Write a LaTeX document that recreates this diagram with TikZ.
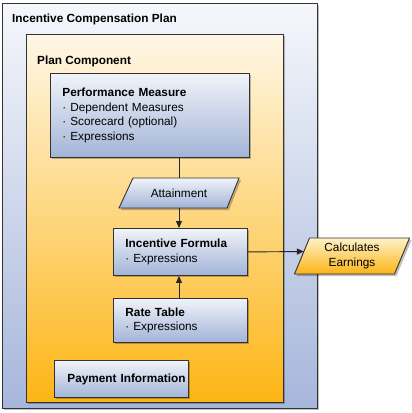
\documentclass[tikz,border=0pt]{standalone}
\usepackage{fontspec}
\setmainfont{Liberation Sans}
\usetikzlibrary{shadows}
\usetikzlibrary{positioning}
\usetikzlibrary{arrows.meta}
\definecolor{plantop}{HTML}{F5F7FB}
\definecolor{planbot}{HTML}{A6B6DB}
\definecolor{comptop}{HTML}{FEF7E6}
\definecolor{compbot}{HTML}{FDB515}
\definecolor{itemtop}{HTML}{F0F3F9}
\definecolor{itembot}{HTML}{A3B4D7}
\definecolor{outtop}{HTML}{FEF2C8}
\definecolor{outbot}{HTML}{FBB416}
\tikzset{
    boxshadow/.style = {drop shadow={shadow xshift=2pt,shadow yshift=-2pt,fill=black,opacity=0.25}},
    planbox/.style = {rectangle, draw=black!80, line width=0.9pt, anchor=north west, inner sep=0pt, top color=plantop, bottom color=planbot, boxshadow},
    compbox/.style = {rectangle, draw=black!80, line width=0.9pt, anchor=north west, inner sep=0pt, top color=comptop, bottom color=compbot, boxshadow},
    itembox/.style = {rectangle, draw=black!80, line width=0.9pt, anchor=north west, inner xsep=12pt, inner ysep=0pt, align=left, top color=itemtop, bottom color=itembot, boxshadow},
    dataframe/.style = {draw=black!80, line width=0.9pt, line join=miter, top color=itemtop, bottom color=itembot, boxshadow},
    outframe/.style = {draw=black!80, line width=0.9pt, line join=miter, top color=outtop, bottom color=outbot, boxshadow},
    datatext/.style = {inner sep=0pt, align=center},
    titletext/.style = {anchor=base west, inner sep=0pt, font=\bfseries},
    edgen/.style = {-, line width=0.9pt, black!85},
    edgea/.style = {-{Triangle[length=7pt,width=6pt]}, line width=0.9pt, black!85},
    every picture/.style={font issue=\fontsize{11.8}{14.6}\selectfont},
    font issue/.style={execute at begin picture={#1}}
}
\begin{document}
\begin{tikzpicture}[x=1pt,y=1pt]
  \useasboundingbox (0,0) rectangle (412,-413);

  % containers
  \node[planbox, minimum width=315pt, minimum height=405pt] (plan) at (2,-3) {};
  \node[titletext] (plantitle) at (12,-22) {Incentive Compensation Plan};
  \node[compbox, minimum width=257pt, minimum height=368pt] (comp) at (26,-34) {};
  \node[titletext] (comptitle) at (37,-64.5) {Plan Component};

  % boxes
  \node[itembox, text width=175pt, minimum height=84pt] (pm) at (50,-73)
    {\textbf{Performance Measure}\\· Dependent Measures\\· Scorecard (optional)\\· Expressions};
  \coordinate (attc) at (179,-193);
  \path[dataframe] ([shift={(-60,-15)}]attc) -- ([shift={(48,-15)}]attc)
    -- ([shift={(60,15)}]attc) -- ([shift={(-46,15)}]attc) -- cycle;
  \node[datatext] (att) at (attc) {Attainment};
  \node[itembox, text width=110pt, minimum height=47pt] (if) at (113,-228)
    {\textbf{Incentive Formula}\\· Expressions};
  \node[itembox, text width=110pt, minimum height=44pt] (rt) at (113,-298)
    {\textbf{Rate Table}\\· Expressions};
  \node[itembox, inner xsep=3pt, text width=128pt, minimum height=37pt] (pay) at (54,-360)
    {\mbox{\hspace*{10pt}\textbf{Payment Information}}};
  \coordinate (cec) at (352,-256);
  \path[outframe] ([shift={(-42.5,18)}]cec) -- coordinate[pos=0.375] (cein) ([shift={(-57.5,-18)}]cec)
    -- ([shift={(42.5,-18)}]cec) -- ([shift={(57.5,18)}]cec) -- cycle;
  \node[datatext] (ce) at (cec) {Calculates\\Earnings};

  % connectors
  \draw[edgen] (pm.south -| attc) -- ([yshift=15pt]attc);
  \draw[edgea] ([yshift=-15pt]attc) -- (attc |- if.north);
  \draw[edgea] (rt.north -| attc) -- (if.south -| attc);
  \draw[edgea] (if.east) -- (cein);
\end{tikzpicture}
\end{document}
